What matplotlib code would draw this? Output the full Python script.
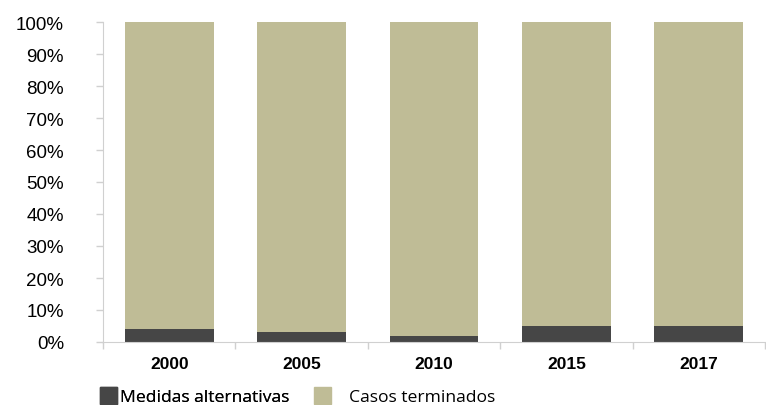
import matplotlib.pyplot as plt
import numpy as np
from matplotlib.patches import Patch

years = ['2000', '2005', '2010', '2015', '2017']
medidas = [4, 3, 2, 5, 5]
casos = [96, 97, 98, 95, 95]

dark = '#464646'
tan = '#bfbc96'
axis_grey = '#d0d0d0'

fig = plt.figure(figsize=(7.66, 4.06), dpi=100)
ax = fig.add_axes([103 / 766, 63 / 406, 662 / 766, 320 / 406])

x = np.arange(len(years))
ax.bar(x, medidas, width=0.67, color=dark)
ax.bar(x, casos, width=0.67, bottom=medidas, color=tan)

ax.set_xlim(-0.5, len(years) - 0.5)
ax.set_ylim(0, 100)

ax.set_yticks(np.arange(0, 101, 10))
ax.set_yticklabels([f'{v}%' for v in range(0, 101, 10)],
                   fontfamily='Liberation Sans', fontsize=13.5)

# category labels in the middle, tick marks on the boundaries
ax.set_xticks(x)
ax.set_xticklabels(years, fontfamily='Liberation Sans', fontweight='bold', fontsize=12.5)
ax.tick_params(axis='x', length=0, pad=10)
ax.set_xticks(np.arange(-0.5, len(years), 1), minor=True)
ax.tick_params(axis='x', which='minor', length=5, color=axis_grey, width=1)
ax.tick_params(axis='y', length=5, color=axis_grey, width=1, pad=23)

for side in ['top', 'right']:
    ax.spines[side].set_visible(False)
ax.spines['left'].set_color(axis_grey)
ax.spines['bottom'].set_color(axis_grey)

leg_font = {'family': 'Open Sans', 'size': 12.6}
leg1 = fig.legend(handles=[Patch(color=dark, label='Medidas alternativas')],
                  loc='lower left', bbox_to_anchor=(84 / 766, -0.04), frameon=False,
                  prop=leg_font, handlelength=1.0, handleheight=1.1, handletextpad=0.15)
fig.add_artist(leg1)
fig.legend(handles=[Patch(color=tan, label='Casos terminados')],
           loc='lower left', bbox_to_anchor=(298 / 766, -0.04), frameon=False,
           prop=leg_font, handlelength=1.0, handleheight=1.1, handletextpad=1.0)

fig.savefig('out.png', dpi=100)
